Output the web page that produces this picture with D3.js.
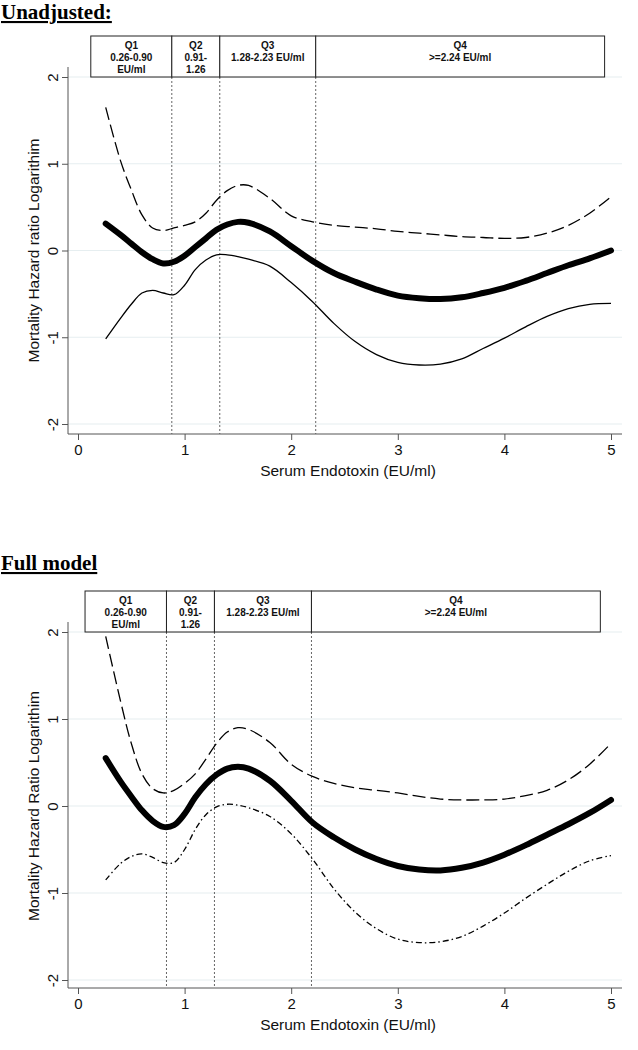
<!DOCTYPE html>
<html><head><meta charset="utf-8">
<script src="https://cdn.jsdelivr.net/npm/d3@7"></script>
<style>body{margin:0;background:#fff}svg{display:block}</style>
</head><body>
<script>
// ---------- data ----------
const xGrid = [0.26,0.4,0.5,0.6,0.7,0.8,0.9,1.0,1.1,1.2,1.3,1.4,1.5,1.6,1.8,2.0,2.2,2.4,2.6,2.8,3.0,3.2,3.4,3.6,3.8,4.0,4.2,4.4,4.6,4.8,5.0];

const topMean  = [0.31,0.18,0.08,-0.02,-0.10,-0.15,-0.13,-0.06,0.04,0.14,0.24,0.30,0.33,0.32,0.22,0.05,-0.12,-0.26,-0.36,-0.45,-0.52,-0.55,-0.56,-0.54,-0.49,-0.43,-0.35,-0.26,-0.17,-0.09,0.0];
const topUpper = [1.65,1.03,0.70,0.41,0.26,0.23,0.26,0.29,0.33,0.43,0.58,0.69,0.75,0.75,0.60,0.40,0.33,0.29,0.27,0.25,0.22,0.20,0.18,0.16,0.15,0.14,0.15,0.20,0.29,0.43,0.62];
const topLower = [-1.02,-0.78,-0.62,-0.49,-0.46,-0.49,-0.51,-0.40,-0.22,-0.11,-0.05,-0.05,-0.07,-0.10,-0.18,-0.37,-0.59,-0.84,-1.05,-1.20,-1.29,-1.32,-1.31,-1.25,-1.13,-1.01,-0.88,-0.76,-0.67,-0.62,-0.61];

const botMean  = [0.55,0.28,0.11,-0.05,-0.17,-0.24,-0.22,-0.09,0.10,0.25,0.36,0.43,0.45,0.43,0.29,0.06,-0.19,-0.36,-0.50,-0.61,-0.69,-0.73,-0.74,-0.71,-0.65,-0.56,-0.45,-0.33,-0.21,-0.08,0.07];
const botUpper = [1.95,1.20,0.72,0.37,0.20,0.15,0.18,0.26,0.37,0.54,0.72,0.85,0.90,0.88,0.73,0.48,0.34,0.26,0.21,0.18,0.15,0.11,0.08,0.07,0.07,0.08,0.12,0.18,0.30,0.48,0.72];
const botLower = [-0.85,-0.66,-0.58,-0.55,-0.59,-0.65,-0.65,-0.50,-0.27,-0.10,-0.01,0.02,0.01,-0.02,-0.12,-0.32,-0.61,-0.95,-1.22,-1.41,-1.53,-1.57,-1.56,-1.50,-1.38,-1.23,-1.06,-0.90,-0.75,-0.63,-0.57];

const xTicks = [0,1,2,3,4,5];
const yTicks = [-2,-1,0,1,2];

const quartileNames  = ["Q1","Q2","Q3","Q4"];
const quartileRanges = [["0.26-0.90","EU/ml"],["0.91-","1.26"],["1.28-2.23 EU/ml"],[">=2.24 EU/ml"]];
const topBounds = [0.12,0.88,1.33,2.23,4.94];
const botBounds = [0.066,0.83,1.28,2.19,4.90];

const panelTitles = ["Unadjusted:","Full model"];
const yTitles = ["Mortality Hazard ratio Logarithim","Mortality Hazard Ratio Logarithim"];
const xTitle = "Serum Endotoxin (EU/ml)";

// ---------- drawing ----------
const W = 638, H = 1050;
const svg = d3.select("body").append("svg").attr("width",W).attr("height",H);
const sans = "'Liberation Sans', Arial, sans-serif";
const serif = "'Liberation Serif', 'Times New Roman', serif";

const x = d3.scaleLinear().domain([0,5]).range([78,611]);
const fmt = d => String(d);

function panel(o){
  const g = svg.append("g");
  const y = d3.scaleLinear().domain([-2,2]).range([o.yBot,o.yTop]);
  const axisY = o.axisY, axL = 68, axR = 622;

  // title
  g.append("text").attr("x",1).attr("y",o.titleY)
    .attr("font-family",serif).attr("font-weight","bold").attr("font-size",21)
    .attr("text-decoration","underline").text(o.title);

  // grid
  g.selectAll(".grid").data(yTicks).join("line")
    .attr("x1",axL).attr("x2",axR).attr("y1",d=>y(d)).attr("y2",d=>y(d))
    .attr("stroke","#e6eef0").attr("stroke-width",1.2);

  // axes
  const yAx = g.append("g").attr("transform",`translate(${axL},0)`)
    .call(d3.axisLeft(y).tickValues(yTicks).tickSize(6).tickFormat(fmt));
  yAx.select(".domain").attr("d",`M0,${o.yTop-10}V${axisY}`).attr("stroke","#555");
  yAx.selectAll(".tick line").attr("stroke","#555");
  yAx.selectAll(".tick text").attr("font-family",sans).attr("font-size",15).attr("fill","#111")
    .attr("text-anchor","middle").attr("x",0).attr("dy",0)
    .attr("transform","translate(-10,0) rotate(-90)").attr("y",0);

  const xAx = g.append("g").attr("transform",`translate(0,${axisY})`)
    .call(d3.axisBottom(x).tickValues(xTicks).tickSize(6).tickFormat(fmt));
  xAx.select(".domain").attr("d",`M${axL},0H${axR}`).attr("stroke","#555");
  xAx.selectAll(".tick line").attr("stroke","#555");
  xAx.selectAll(".tick text").attr("font-family",sans).attr("font-size",15).attr("fill","#111")
    .attr("y",10).attr("dy","0.71em");

  // axis titles
  g.append("text").attr("transform",`translate(39,${(o.yTop+o.yBot)/2}) rotate(-90)`)
    .attr("text-anchor","middle").attr("font-family",sans).attr("font-size",15.5).attr("fill","#111")
    .text(o.yTitle);
  g.append("text").attr("x",(axL+axR)/2+3).attr("y",axisY+42).attr("text-anchor","middle")
    .attr("font-family",sans).attr("font-size",15.5).attr("fill","#111").text(xTitle);

  // quartile dotted lines
  g.selectAll(".qline").data(o.bounds.slice(1,4)).join("line")
    .attr("x1",d=>x(d)).attr("x2",d=>x(d)).attr("y1",o.yTop).attr("y2",axisY)
    .attr("stroke","#555").attr("stroke-width",0.9).attr("stroke-dasharray","2,2");

  // quartile boxes
  const boxes = d3.range(4).map(i=>({a:o.bounds[i],b:o.bounds[i+1],name:quartileNames[i],lines:quartileRanges[i]}));
  const bg = g.selectAll(".qbox").data(boxes).join("g");
  bg.append("rect").attr("x",d=>x(d.a)).attr("y",o.boxTop).attr("width",d=>x(d.b)-x(d.a))
    .attr("height",o.yTop-o.boxTop).attr("fill","#fff").attr("stroke","#222").attr("stroke-width",1);
  bg.each(function(d){
    const t = d3.select(this).append("text").attr("text-anchor","middle")
      .attr("font-family",sans).attr("font-weight","bold").attr("font-size",10).attr("fill","#111");
    [d.name].concat(d.lines).forEach((s,k)=>{
      t.append("tspan").attr("x",(x(d.a)+x(d.b))/2).attr("y",o.boxTop+13+k*12).text(s);
    });
  });

  // curves
  const line = d3.line().x((d,i)=>x(xGrid[i])).y(d=>y(d)).curve(d3.curveCatmullRom.alpha(0.5));
  g.append("path").attr("d",line(o.upper)).attr("fill","none").attr("stroke","#000")
    .attr("stroke-width",1.3).attr("stroke-dasharray","13,5");
  g.append("path").attr("d",line(o.lower)).attr("fill","none").attr("stroke","#000")
    .attr("stroke-width",1.3).attr("stroke-dasharray",o.lowerDash);
  g.append("path").attr("d",line(o.mean)).attr("fill","none").attr("stroke","#000")
    .attr("stroke-width",6).attr("stroke-linecap","round").attr("stroke-linejoin","round");
}

panel({title:panelTitles[0],titleY:19,boxTop:36,yTop:77,yBot:424,axisY:434,
  bounds:topBounds,yTitle:yTitles[0],mean:topMean,upper:topUpper,lower:topLower,lowerDash:null});
panel({title:panelTitles[1],titleY:570,boxTop:591,yTop:632,yBot:980,axisY:988,
  bounds:botBounds,yTitle:yTitles[1],mean:botMean,upper:botUpper,lower:botLower,lowerDash:"6,3,1.5,3"});
</script>
</body></html>
